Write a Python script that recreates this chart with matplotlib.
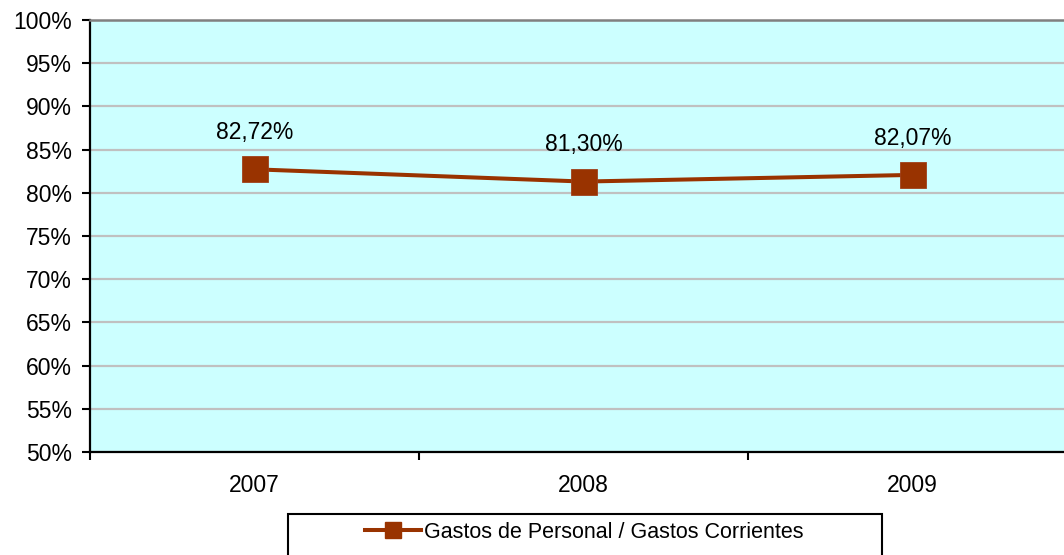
import matplotlib.pyplot as plt
from matplotlib.lines import Line2D
from matplotlib.patches import Rectangle
from matplotlib.ticker import FuncFormatter

plt.rcParams['font.family'] = ['Liberation Sans', 'DejaVu Sans']

# datos
anios = ['2007', '2008', '2009']
valores = [82.72, 81.30, 82.07]
etiquetas = ['82,72%', '81,30%', '82,07%']
serie = 'Gastos de Personal / Gastos Corrientes'

color = '#993300'
W, H = 1064, 555
fs = 16.5

fig = plt.figure(figsize=(W / 100, H / 100), dpi=100)
ax = fig.add_axes([90 / W, 103 / H, 987 / W, 432 / H])
ax.set_facecolor('#CCFFFF')

x = list(range(1, len(anios) + 1))
ax.plot(x, valores, color=color, lw=2.9, marker='s', ms=19,
        mfc=color, mec='#a0401a', mew=0.6, zorder=3, clip_on=False)
for xi, v, t in zip(x, valores, etiquetas):
    ax.annotate(t, (xi, v), xytext=(0, 26.5), textcoords='offset points',
                ha='center', va='center', fontsize=fs)

ax.set_xlim(0.5, 3.5)
ax.set_ylim(50, 100)
ax.set_yticks(range(50, 101, 5))
ax.yaxis.set_major_formatter(FuncFormatter(lambda v, p: '%d%%' % v))
ax.yaxis.grid(True, color='#C0C0C0', lw=1.6)
ax.set_axisbelow(True)

ax.set_xticks([0.5, 1.5, 2.5, 3.5])
ax.set_xticklabels([])
ax.set_xticks(x, minor=True)
ax.set_xticklabels(anios, minor=True)
ax.tick_params(axis='x', which='major', length=6, width=1.5, direction='out')
ax.tick_params(axis='x', which='minor', length=0, pad=16, labelsize=fs)
ax.tick_params(axis='y', length=6, width=1.5, pad=7, labelsize=fs)

ax.spines['left'].set_linewidth(1.6)
ax.spines['bottom'].set_linewidth(1.6)
ax.spines['top'].set_color('#808080')
ax.spines['top'].set_linewidth(1.8)
ax.spines['right'].set_visible(False)

# leyenda
fig.patches.append(Rectangle((288 / W, -3 / H), 594 / W, 44 / H,
                             transform=fig.transFigure, fill=False,
                             ec='black', lw=1.5, clip_on=False))
h = Line2D([], [], color=color, lw=2.9, marker='s', ms=11, mfc=color, mec=color)
fig.legend([h], [serie], loc='center left', bbox_to_anchor=(365 / W, 23 / H),
           frameon=False, fontsize=15.5, borderpad=0, borderaxespad=0,
           handlelength=2.6, handletextpad=0.15)

fig.savefig('out.png', dpi=100)
